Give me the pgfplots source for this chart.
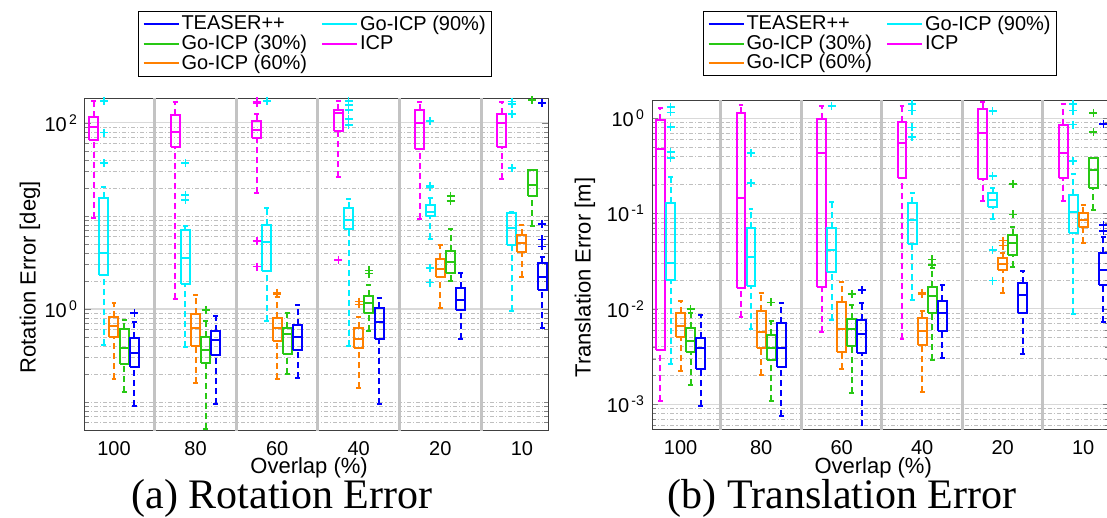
\documentclass[border=0pt]{standalone}
\usepackage{pgfplots}
\pgfplotsset{compat=1.18}
\usepackage{fontspec}
\setmainfont{Liberation Sans}
\newfontfamily\capfont{Liberation Serif}
\definecolor{mgc}{RGB}{255,0,255}
\definecolor{cyn}{RGB}{0,240,255}
\definecolor{org}{RGB}{255,128,0}
\definecolor{grn}{RGB}{40,200,20}
\definecolor{blu}{RGB}{0,0,255}
\definecolor{sepg}{RGB}{195,195,195}
% box: color, position, lower whisker, lower quartile, median, upper quartile, upper whisker
\newcommand{\bn}[7]{%
\addplot[#1, solid, line width=1pt, forget plot, unbounded coords=jump] table[x expr=#2+(\thisrow{dx}), y=y, row sep=\\] {dx y\\ -0.055 #4\\ 0.055 #4\\ 0.055 #6\\ -0.055 #6\\ -0.055 #4\\ 0 nan\\ -0.055 #5\\ 0.055 #5\\ 0 nan\\ -0.03 #3\\ 0.03 #3\\ 0 nan\\ -0.03 #7\\ 0.03 #7\\};
\addplot[#1, line width=1pt, dash pattern=on 3pt off 2pt, forget plot, unbounded coords=jump] table[x expr=#2, y=y, row sep=\\] {y\\ #3\\ #4\\ nan\\ #6\\ #7\\};}
% same with outliers
\newcommand{\bx}[8]{\bn{#1}{#2}{#3}{#4}{#5}{#6}{#7}%
\addplot[#1, only marks, mark=+, mark size=2pt, mark options={solid, line width=0.8pt}, forget plot] table[x expr=#2, y=y, row sep=\\] {y\\ #8};}
\begin{document}
\begin{tikzpicture}
\path[use as bounding box] (0,0) rectangle (553.5pt,-259pt);
% ---------------- (a) Rotation error ----------------
\begin{axis}[at={(42.5pt,-215pt)}, anchor=south west,
  scale only axis, width=231.5pt, height=166pt,
  ymode=log, ymin=0.05, ymax=185, xmin=-0.355, xmax=5.32,
  xtick={0,1,2,3,4,5}, xticklabels={100,80,60,40,20,10},
  xtick style={draw=none}, tick align=inside,
  xticklabel style={yshift=-2pt},
  ymajorgrids, yminorgrids,
  major grid style={draw=black!15, line width=0.6pt},
  minor grid style={draw=black!25, line width=0.35pt, dash pattern=on 2pt off 1pt on 0.6pt off 1pt},
  axis line style={black!75, line width=0.5pt},
  major tick length=3pt, minor tick length=1.8pt,
  tick label style={font=\fontsize{10}{12}\selectfont},
  label style={font=\fontsize{11}{13}\selectfont},
  ytick={1,100}, yticklabels={10\textsuperscript{\,0},10\textsuperscript{\,2}},
  minor ytick={0.05,0.06,0.07,0.08,0.09,0.1,0.2,0.3,0.4,0.5,0.6,0.7,0.8,0.9,2,3,4,5,6,7,8,9,10,20,30,40,50,60,70,80,90},
  ylabel={Rotation Error [deg]}, xlabel={Overlap (\%)},
  ylabel style={at={(axis description cs:-0.119,0.46)}, anchor=center},
  xlabel style={at={(axis description cs:0.484,-0.1145)}, anchor=center},
  legend columns=2, legend cell align=left,
  legend image code/.code={\draw[#1, line width=1pt] (0pt,0pt) -- (17.5pt,0pt);},
  legend style={at={(axis description cs:0.1145,1.262)}, anchor=north west,
    draw=black, line width=0.5pt, fill=white, font=\fontsize{10}{11.75}\selectfont,
    inner xsep=2pt, inner ysep=1.5pt, nodes={inner xsep=1pt, inner ysep=0.5pt},
    /tikz/every even column/.append style={column sep=6pt}},
]
\addlegendimage{blu}\addlegendentry{TEASER++}
\addlegendimage{cyn}\addlegendentry{Go-ICP (90\%)}
\addlegendimage{grn}\addlegendentry{Go-ICP (30\%)}
\addlegendimage{mgc}\addlegendentry{ICP}
\addlegendimage{org}\addlegendentry{Go-ICP (60\%)}
\addplot[sepg, line width=1.5pt, forget plot] coordinates {(0.5,0.01) (0.5,1000)};
\addplot[sepg, line width=1.5pt, forget plot] coordinates {(1.5,0.01) (1.5,1000)};
\addplot[sepg, line width=1.5pt, forget plot] coordinates {(2.5,0.01) (2.5,1000)};
\addplot[sepg, line width=1.5pt, forget plot] coordinates {(3.5,0.01) (3.5,1000)};
\addplot[sepg, line width=1.5pt, forget plot] coordinates {(4.5,0.01) (4.5,1000)};
% 100
\bn{mgc}{-0.25}{9.45}{65.6}{91}{115}{172}
\bx{cyn}{-0.125}{0.41}{2.32}{3.97}{15.5}{20.2}{172\\78.7\\36.9\\}
\bn{org}{0}{0.177}{0.50}{0.66}{0.81}{1.15}
\bn{grn}{0.125}{0.129}{0.254}{0.378}{0.61}{0.77}
\bx{blu}{0.25}{0.0906}{0.24}{0.333}{0.49}{0.73}{0.90\\}
% 80
\bn{mgc}{0.75}{1.27}{55.6}{80.7}{120}{167}
\bx{cyn}{0.875}{0.39}{1.86}{3.56}{7.07}{7.7}{36.9\\16.8\\14.8\\}
\bn{org}{1}{0.16}{0.40}{0.62}{0.88}{1.41}
\bx{grn}{1.125}{0.051}{0.265}{0.362}{0.50}{0.74}{0.976\\}
\bn{blu}{1.25}{0.095}{0.32}{0.46}{0.585}{0.84}
% 60
\bx{mgc}{1.75}{17.5}{68.5}{84}{106}{125}{170\\163\\5.4\\2.85\\}
\bx{cyn}{1.875}{0.75}{2.58}{5.2}{8.0}{12.1}{172\\}
\bx{org}{2}{0.177}{0.45}{0.62}{0.79}{1.35}{1.45\\1.5\\}
\bn{grn}{2.125}{0.20}{0.326}{0.54}{0.62}{0.90}
\bn{blu}{2.25}{0.18}{0.36}{0.50}{0.67}{1.10}
% 40
\bx{mgc}{2.75}{26.5}{82.6}{127}{136}{172}{3.36\\}
\bx{cyn}{2.875}{0.40}{7.25}{9.06}{12.1}{15.1}{172\\156\\137\\110\\95\\}
\bx{org}{3}{0.14}{0.378}{0.48}{0.62}{0.81}{1.12\\1.2\\}
\bx{grn}{3.125}{0.58}{0.91}{1.17}{1.38}{1.81}{2.4\\2.6\\}
\bn{blu}{3.25}{0.095}{0.48}{0.73}{1.02}{1.32}
% 20
\bn{mgc}{3.75}{9.2}{52}{99}{136}{169}
\bx{cyn}{3.875}{5.66}{10}{11.1}{13.1}{15.7}{105\\20.2\\21\\2.74\\1.92\\}
\bn{org}{4}{1.02}{2.19}{2.69}{3.42}{4.88}
\bx{grn}{4.125}{2.02}{2.42}{3.23}{4.2}{7.2}{16.4\\14.5\\}
\bn{blu}{4.25}{0.47}{0.976}{1.25}{1.67}{2.42}
% 10
\bn{mgc}{4.75}{24.8}{55.6}{99}{125}{169}
\bx{cyn}{4.875}{0.94}{4.88}{7.4}{10.7}{11}{169\\160\\125\\32.6\\}
\bn{org}{5}{2.22}{4.13}{5.09}{6.25}{8.0}
\bx{grn}{5.125}{7.8}{16.4}{21.5}{31.2}{31.2}{177\\}
\bx{blu}{5.25}{0.62}{1.6}{2.22}{3.15}{3.65}{163\\8.2\\5.6\\4.7\\}
\end{axis}
% ---------------- (b) Translation error ----------------
\begin{axis}[at={(326pt,-214.5pt)}, anchor=south west,
  scale only axis, width=228.5pt, height=164.5pt,
  ymode=log, ymin=0.00055, ymax=1.55, xmin=-0.355, xmax=5.32,
  xtick={0,1,2,3,4,5}, xticklabels={100,80,60,40,20,10},
  xtick style={draw=none}, tick align=inside,
  xticklabel style={yshift=-2pt},
  ymajorgrids, yminorgrids,
  major grid style={draw=black!15, line width=0.6pt},
  minor grid style={draw=black!25, line width=0.35pt, dash pattern=on 2pt off 1pt on 0.6pt off 1pt},
  axis line style={black!75, line width=0.5pt},
  major tick length=3pt, minor tick length=1.8pt,
  tick label style={font=\fontsize{10}{12}\selectfont},
  label style={font=\fontsize{11}{13}\selectfont},
  ytick={0.001,0.01,0.1,1}, yticklabels={10\textsuperscript{\,-3},10\textsuperscript{\,-2},10\textsuperscript{\,-1},10\textsuperscript{\,0}},
  minor ytick={0.0006,0.0007,0.0008,0.0009,0.002,0.003,0.004,0.005,0.006,0.007,0.008,0.009,0.02,0.03,0.04,0.05,0.06,0.07,0.08,0.09,0.2,0.3,0.4,0.5,0.6,0.7,0.8,0.9},
  ylabel={Translation Error [m]}, xlabel={Overlap (\%)},
  ylabel style={at={(axis description cs:-0.147,0.46)}, anchor=center},
  xlabel style={at={(axis description cs:0.484,-0.1185)}, anchor=center},
  legend columns=2, legend cell align=left,
  legend image code/.code={\draw[#1, line width=1pt] (0pt,0pt) -- (17.5pt,0pt);},
  legend style={at={(axis description cs:0.1116,1.2705)}, anchor=north west,
    draw=black, line width=0.5pt, fill=white, font=\fontsize{10}{11.75}\selectfont,
    inner xsep=2pt, inner ysep=1.5pt, nodes={inner xsep=1pt, inner ysep=0.5pt},
    /tikz/every even column/.append style={column sep=6pt}},
]
\addlegendimage{blu}\addlegendentry{TEASER++}
\addlegendimage{cyn}\addlegendentry{Go-ICP (90\%)}
\addlegendimage{grn}\addlegendentry{Go-ICP (30\%)}
\addlegendimage{mgc}\addlegendentry{ICP}
\addlegendimage{org}\addlegendentry{Go-ICP (60\%)}
\addplot[sepg, line width=1.5pt, forget plot] coordinates {(0.5,0.0001) (0.5,10)};
\addplot[sepg, line width=1.5pt, forget plot] coordinates {(1.5,0.0001) (1.5,10)};
\addplot[sepg, line width=1.5pt, forget plot] coordinates {(2.5,0.0001) (2.5,10)};
\addplot[sepg, line width=1.5pt, forget plot] coordinates {(3.5,0.0001) (3.5,10)};
\addplot[sepg, line width=1.5pt, forget plot] coordinates {(4.5,0.0001) (4.5,10)};
% 100
\bn{mgc}{-0.25}{0.00107}{0.0037}{0.47}{0.95}{1.29}
\bx{cyn}{-0.125}{0.00264}{0.0201}{0.0305}{0.13}{0.243}{1.3\\1.15\\0.81\\0.44\\0.38\\}
\bn{org}{0}{0.00224}{0.00505}{0.00668}{0.00915}{0.0122}
\bx{grn}{0.125}{0.0016}{0.00357}{0.00455}{0.00628}{0.0090}{0.0099\\}
\bn{blu}{0.25}{0.00095}{0.00234}{0.00387}{0.00493}{0.00865}
% 80
\bn{mgc}{0.75}{0.0083}{0.0165}{0.144}{1.12}{1.37}
\bx{cyn}{0.875}{0.00612}{0.0174}{0.0353}{0.070}{0.112}{0.43\\0.21\\}
\bn{org}{1}{0.00204}{0.00387}{0.00578}{0.0096}{0.0148}
\bx{grn}{1.125}{0.00107}{0.00292}{0.00387}{0.00534}{0.00749}{0.0117\\}
\bn{blu}{1.25}{0.00075}{0.00245}{0.00387}{0.00708}{0.01148}
% 60
\bn{mgc}{1.75}{0.0057}{0.0171}{0.43}{0.97}{1.35}
\bx{cyn}{1.875}{0.00767}{0.0246}{0.0415}{0.070}{0.131}{1.35\\}
\bn{org}{2}{0.00234}{0.00357}{0.00612}{0.0117}{0.0193}
\bx{grn}{2.125}{0.00131}{0.0041}{0.00612}{0.0078}{0.0110}{0.01436\\}
\bx{blu}{2.25}{0.00046}{0.00348}{0.00543}{0.00767}{0.0115}{0.0158\\}
% 40
\bn{mgc}{2.75}{0.00482}{0.237}{0.543}{0.916}{1.34}
\bx{cyn}{2.875}{0.0124}{0.048}{0.0855}{0.128}{0.165}{1.4\\1.2\\0.8\\0.63\\}
\bx{org}{3}{0.00133}{0.0042}{0.00593}{0.00798}{0.0096}{0.0147\\0.0142\\}
\bx{grn}{3.125}{0.00292}{0.0090}{0.01368}{0.0171}{0.0267}{0.0331\\0.029\\}
\bn{blu}{3.25}{0.00305}{0.00588}{0.0090}{0.0122}{0.0178}
% 20
\bn{mgc}{3.75}{0.136}{0.228}{0.70}{1.26}{1.48}
\bx{cyn}{3.875}{0.087}{0.118}{0.138}{0.163}{0.184}{1.18\\0.247\\0.0415\\0.0198\\}
\bx{org}{4}{0.0146}{0.0256}{0.0296}{0.034}{0.0383}{0.052\\0.046\\}
\bx{grn}{4.125}{0.0274}{0.0368}{0.0488}{0.0596}{0.0728}{0.204\\0.098\\}
\bn{blu}{4.25}{0.00338}{0.0090}{0.0140}{0.0186}{0.0252}
% 10
\bn{mgc}{4.75}{0.136}{0.234}{0.433}{0.845}{1.40}
\bx{cyn}{4.875}{0.00887}{0.062}{0.104}{0.156}{0.257}{1.4\\1.2\\0.857\\0.357\\}
\bn{org}{5}{0.0488}{0.0728}{0.0855}{0.1005}{0.123}
\bx{grn}{5.125}{0.109}{0.184}{0.285}{0.384}{0.384}{1.14\\0.718\\}
\bx{blu}{5.25}{0.00736}{0.0178}{0.0256}{0.0383}{0.057}{0.865\\0.076\\0.066\\}
\end{axis}
\node[font=\capfont\fontsize{21}{23}\selectfont, anchor=base] at (141pt,-254pt) {(a) Rotation Error};
\node[font=\capfont\fontsize{21}{23}\selectfont, anchor=base] at (421pt,-254pt) {(b) Translation Error};
\end{tikzpicture}
\end{document}
